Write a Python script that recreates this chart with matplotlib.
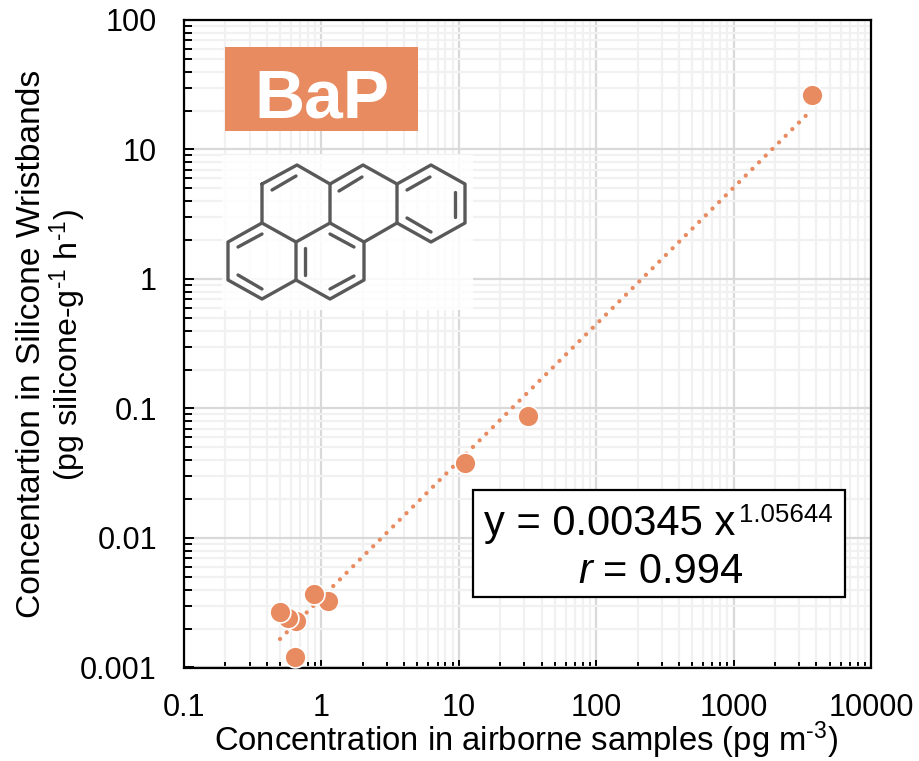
"""
BaP in silicone wristbands vs airborne samples, log-log scatter with power fit.
"""

import matplotlib
matplotlib.use("Agg")
import matplotlib.pyplot as plt
from matplotlib.patches import Rectangle
from matplotlib.ticker import FixedLocator, FixedFormatter, LogLocator, NullFormatter

plt.rcParams["font.family"] = ["Liberation Sans", "DejaVu Sans"]
plt.rcParams["mathtext.fontset"] = "custom"
plt.rcParams["mathtext.rm"] = "Liberation Sans"
plt.rcParams["mathtext.it"] = "Liberation Sans:italic"

# Data.
airborne = [3722, 31.9, 11.1, 1.117, 0.883, 0.653, 0.572, 0.5, 0.643]
wristband = [26.4, 0.0875, 0.0379, 0.00326, 0.0037, 0.00229, 0.00241, 0.00268, 0.00121]
trend_x = [0.5, 3470]
trend_y = [0.00166, 18.9]

x_ticks = [0.1, 1, 10, 100, 1000, 10000]
x_tick_labels = ["0.1", "1", "10", "100", "1000", "10000"]
y_ticks = [0.001, 0.01, 0.1, 1, 10, 100]
y_tick_labels = ["0.001", "0.01", "0.1", "1", "10", "100"]

# Benzo[a]pyrene skeleton, in reference pixels.
ring_bonds = [
    [(262, 184), (297, 165), (330, 184), (330, 223), (296, 242), (262, 223), (262, 184)],
    [(330, 184), (363, 165), (397, 184), (397, 223), (364, 242)],
    [(397, 184), (431, 165), (465, 184), (465, 223), (431, 242), (397, 223)],
    [(262, 223), (228, 242), (228, 280), (262, 299), (296, 280), (296, 242)],
    [(296, 280), (330, 299), (364, 280), (364, 242), (330, 223)],
]
double_bonds = [
    [(272, 190), (296, 176)],
    [(339, 191), (362, 177)],
    [(407, 190), (430, 177)],
    [(455, 192), (455, 217)],
    [(407, 218), (431, 232)],
    [(238, 247), (262, 234)],
    [(238, 275), (262, 289)],
    [(305, 248), (305, 275)],
    [(330, 234), (354, 247)],
    [(330, 289), (354, 276)],
]

ORANGE = "#E98B61"
WIDTH, HEIGHT = 920, 761

fig = plt.figure(figsize=(WIDTH / 100, HEIGHT / 100), dpi=100)
ax = fig.add_axes([184 / WIDTH, 1 - 667.5 / HEIGHT, (871 - 184) / WIDTH, (667.5 - 20) / HEIGHT])

ax.set_xscale("log")
ax.set_yscale("log")
ax.set_xlim(0.1, 10000)
ax.set_ylim(0.001, 100)

# Major and minor grid.
ax.set_axisbelow(True)
ax.xaxis.set_major_locator(FixedLocator(x_ticks))
ax.xaxis.set_major_formatter(FixedFormatter(x_tick_labels))
ax.yaxis.set_major_locator(FixedLocator(y_ticks))
ax.yaxis.set_major_formatter(FixedFormatter(y_tick_labels))
for axis in (ax.xaxis, ax.yaxis):
    axis.set_minor_locator(LogLocator(base=10, subs=range(2, 10), numticks=20))
    axis.set_minor_formatter(NullFormatter())
ax.grid(True, which="minor", color="#f1f1f1", linewidth=1.6, zorder=0)
ax.grid(True, which="major", color="#d9d9d9", linewidth=1.6, zorder=1)

for spine in ax.spines.values():
    spine.set_linewidth(1.6)
ax.tick_params(which="major", direction="in", width=1.4, labelsize=22)
ax.tick_params(which="minor", direction="in", width=1.4)
ax.tick_params(axis="x", which="major", length=6, pad=18.5)
ax.tick_params(axis="x", which="minor", length=4.5)
ax.tick_params(axis="y", which="major", length=7, pad=19.5)
ax.tick_params(axis="y", which="minor", length=5.5)

# Trend line then points.
ax.plot(trend_x, trend_y, color=ORANGE, linewidth=3.1, dash_capstyle="round",
        linestyle=(0, (0.01, 2.17)), zorder=3)
ax.plot(airborne, wristband, linestyle="none", marker="o", markersize=15,
        markerfacecolor=ORANGE, markeredgecolor="white", markeredgewidth=1.2,
        clip_on=False, zorder=4)

# Overlay in reference pixels for the labels, badge, molecule and equation box.
over = fig.add_axes([0, 0, 1, 1], facecolor="none")
over.set_xlim(0, WIDTH)
over.set_ylim(HEIGHT, 0)
over.axis("off")

over.text(526, 751, r"Concentration in airborne samples (pg m$^{\text{-3}}$)", fontsize=23.6,
          ha="center", va="baseline")
over.text(40, 343.5, "Concentartion in Silicone Wristbands", fontsize=24.2, rotation=90,
          rotation_mode="anchor", ha="center", va="baseline")
over.text(78, 345, r"(pg silicone-g$^{\text{-1}}$ h$^{\text{-1}}$)", fontsize=23.2, rotation=90,
          rotation_mode="anchor", ha="center", va="baseline")

over.add_patch(Rectangle((225, 47), 193, 84, facecolor=ORANGE, edgecolor="none"))
over.text(322, 117, "BaP", color="white", fontsize=50, fontweight="bold", ha="center", va="baseline")

over.add_patch(Rectangle((222, 155), 251, 155, facecolor="white", edgecolor="none", alpha=0.85))
for bond in ring_bonds + double_bonds:
    xs, ys = zip(*bond)
    over.plot(xs, ys, color="#595959", linewidth=2.4, solid_capstyle="round", solid_joinstyle="round")

over.add_patch(Rectangle((473.5, 490), 371.5, 106.5, facecolor="white", edgecolor="black", linewidth=1.6))
over.text(484, 535, "y = 0.00345 x", fontsize=30, color="black", va="baseline")
over.text(739, 522, "1.05644", fontsize=18.6, color="black", va="baseline")
over.text(578, 583, "r", fontsize=30, style="italic", color="black", va="baseline")
over.text(603, 583, "= 0.994", fontsize=30, color="black", va="baseline")

fig.savefig("out.png", dpi=100)
